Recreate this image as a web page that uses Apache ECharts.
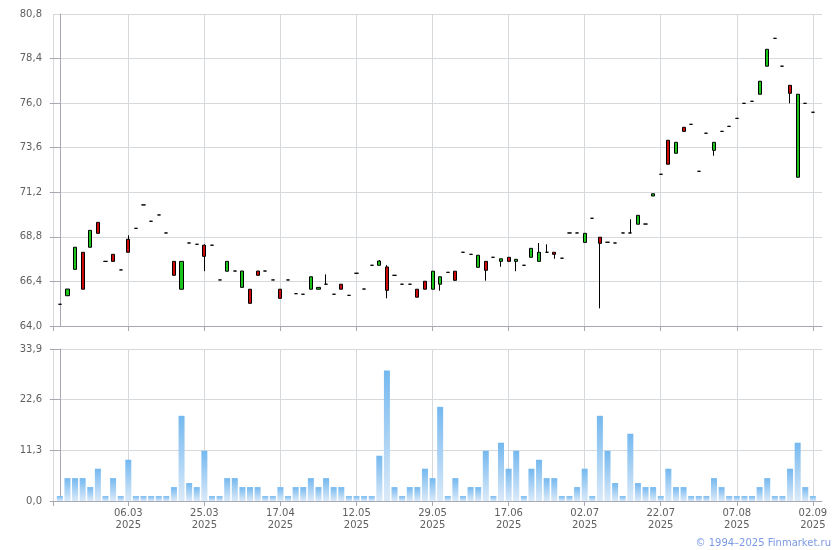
<!DOCTYPE html>
<html>
<head>
<meta charset="utf-8">
<script src="https://cdn.jsdelivr.net/npm/echarts@6/dist/echarts.min.js"></script>
<style>html,body{margin:0;padding:0;background:#fff}#c{width:840px;height:550px}</style>
</head>
<body>
<div id="c"></div>
<script>
// ---- data ----
const openP  = [65.17,65.63,67.05,67.97,68.24,69.58,67.48,67.86,67.02,68.67,
                69.26,70.52,69.64,69.98,69.01,67.48,65.98,68.47,68.40,68.35,
                68.35,66.48,66.95,66.96,66.08,65.98,66.96,66.96,66.48,65.98,
                66.48,65.74,65.71,65.98,65.98,66.25,65.71,66.25,65.65,66.84,
                65.99,67.27,67.27,67.18,66.73,66.25,66.25,65.98,66.41,65.98,
                66.25,66.89,66.95,67.97,67.86,67.16,67.48,67.70,67.48,67.70,
                67.48,67.27,67.70,67.48,67.97,67.97,67.65,69.01,69.01,68.50,
                69.80,68.78,68.51,68.47,69.01,69.01,69.48,69.49,71.00,72.17,
                74.00,73.30,74.70,74.86,72.33,74.38,73.46,74.48,74.75,75.18,
                75.99,76.10,76.48,77.99,79.49,77.99,76.96,72.01,75.99,75.51];
const closeP = [65.17,65.99,68.24,65.98,69.15,68.99,67.48,67.48,67.02,67.97,
                69.26,70.52,69.64,69.98,69.01,66.73,67.48,68.47,68.40,67.75,
                68.35,66.48,67.48,66.96,66.96,65.22,66.73,66.96,66.48,65.49,
                66.48,65.74,65.71,66.65,66.08,66.25,65.71,65.98,65.65,66.84,
                65.99,67.27,67.50,65.92,66.73,66.25,66.25,65.55,65.98,66.95,
                66.65,66.89,66.46,67.97,67.86,67.81,67.00,67.70,67.62,67.48,
                67.59,67.27,68.18,67.97,67.97,67.86,67.65,69.01,69.01,68.99,
                69.80,68.45,68.51,68.47,69.01,69.01,69.96,69.49,71.12,72.17,
                72.71,73.89,74.48,74.86,72.33,74.38,73.89,74.48,74.75,75.18,
                75.99,76.10,77.18,78.90,79.49,77.99,76.53,76.48,75.99,75.51];
const lowP   = [65.17,65.63,67.05,65.98,68.24,68.99,67.48,67.48,67.02,67.97,
                69.26,70.52,69.64,69.98,69.01,66.73,65.98,68.47,68.40,66.95,
                68.35,66.48,66.95,66.96,66.08,65.22,66.73,66.96,66.48,65.49,
                66.48,65.74,65.71,65.98,65.98,66.25,65.71,65.98,65.65,66.84,
                65.99,67.27,67.27,65.49,66.73,66.25,66.25,65.55,65.98,65.98,
                65.90,66.89,66.46,67.97,67.86,67.16,66.44,67.70,67.19,67.48,
                66.95,67.27,67.70,67.48,67.97,67.62,67.65,69.01,69.01,68.50,
                69.80,64.95,68.51,68.47,69.01,69.01,69.48,69.49,71.00,72.17,
                72.71,73.30,74.48,74.86,72.33,74.38,73.17,74.48,74.75,75.18,
                75.99,76.10,76.48,77.99,79.49,77.99,75.99,72.01,75.99,75.51];
const highP  = [65.17,65.99,68.24,67.97,69.15,69.58,67.48,67.86,67.02,68.88,
                69.26,70.52,69.64,69.98,69.01,67.48,67.48,68.47,68.40,68.40,
                68.35,66.48,67.48,66.96,66.96,65.98,66.96,66.96,66.48,65.98,
                66.48,65.74,65.71,66.65,66.08,66.78,65.71,66.25,65.65,66.84,
                65.99,67.27,67.55,67.28,66.73,66.25,66.25,65.98,66.41,66.95,
                66.65,66.89,66.95,67.97,67.86,67.81,67.48,67.70,67.62,67.70,
                67.59,67.27,68.18,68.47,68.40,67.97,67.65,69.01,69.01,68.99,
                69.80,68.78,68.51,68.47,69.01,69.75,69.96,69.49,71.12,72.17,
                74.00,73.89,74.70,74.86,72.33,74.38,73.89,74.48,74.75,75.18,
                75.99,76.10,77.18,78.90,79.49,77.99,76.96,76.48,75.99,75.51];
const volume = [1.1,5.1,5.1,5.1,3.1,7.2,1.1,5.1,1.1,9.2,
                1.1,1.1,1.1,1.1,1.1,3.1,19,4.0,3.1,11.2,
                1.1,1.1,5.1,5.1,3.1,3.1,3.1,1.1,1.1,3.1,
                1.1,3.1,3.1,5.1,3.1,5.1,3.1,3.1,1.1,1.1,
                1.1,1.1,10.1,29.1,3.1,1.1,3.1,3.1,7.2,5.1,
                21,1.1,5.1,1.1,3.1,3.1,11.2,1.1,13,7.2,
                11.2,1.1,7.2,9.2,5.1,5.1,1.1,1.1,3.1,7.2,
                1.1,19,11.2,4.0,1.1,15,4.0,3.1,3.1,1.1,
                7.2,3.1,3.1,1.1,1.1,1.1,5.1,3.1,1.1,1.1,
                1.1,1.1,3.1,5.1,1.1,1.1,7.2,13,3.1,1.1];
const tickIndex  = [9,19,29,39,49,59,69,79,89,99];
const tickLabels = ['06.03','25.03','17.04','12.05','29.05','17.06','02.07','22.07','07.08','02.09'];
const tickYears  = ['2025','2025','2025','2025','2025','2025','2025','2025','2025','2025'];
const priceTicks  = [64.0,66.4,68.8,71.2,73.6,76.0,78.4,80.8];
const volumeTicks = [0.0,11.3,22.6,33.9];

// ---- build ----
const candles = openP.map((o,i)=>[i,o,closeP[i],lowP[i],highP[i]]);
const vols = volume.map((v,i)=>[i,v]);
const XMIN = -0.9, XMAX = 100.2;
const axisCol = '#a7a8b2', gridCol = '#d6d9dc', txtCol = '#606060';
const font = 'DejaVu Sans';
const fmt = v => Number(v).toFixed(1).replace('.', ',');
const priceTop = priceTicks[priceTicks.length-1];

function xAxisCfg(gi, showLabels){
  return {
    type:'value', gridIndex:gi, min:XMIN, max:XMAX,
    axisLine:{show:true, onZero:false, lineStyle:{color:axisCol}},
    axisTick:{show:true, length:5, customValues:[XMIN].concat(tickIndex), lineStyle:{color:axisCol}},
    splitLine:{show:true, lineStyle:{color:gridCol}},
    axisLabel:{show:showLabels, customValues:tickIndex, margin:6, color:txtCol,
      fontFamily:font, fontSize:10, lineHeight:12.5,
      formatter:v=>{const k=tickIndex.indexOf(Math.round(v)); return k>=0 ? tickLabels[k]+'\n'+tickYears[k] : '';}}
  };
}
function yAxisCfg(gi, ticks, tickMarks){
  return {
    type:'value', gridIndex:gi, min:ticks[0], max:ticks[ticks.length-1], scale:true,
    axisLine:{show:true, lineStyle:{color:axisCol}},
    axisTick:{show:true, length:10, customValues:tickMarks, lineStyle:{color:axisCol}},
    splitLine:{show:true, lineStyle:{color:gridCol}},
    axisLabel:{customValues:ticks, margin:11, color:txtCol, fontFamily:font, fontSize:10, formatter:fmt}
  };
}

const chart = echarts.init(document.getElementById('c'), null, {renderer:'canvas'});
chart.setOption({
  animation:false,
  backgroundColor:'#fff',
  grid:[
    {left:53, right:18, top:14, height:312},
    {left:53, right:18, top:349, height:152}
  ],
  xAxis:[xAxisCfg(0,false), xAxisCfg(1,true)],
  yAxis:[yAxisCfg(0,priceTicks,priceTicks.slice(0,-1)), yAxisCfg(1,volumeTicks,volumeTicks)],
  series:[
    {type:'candlestick', xAxisIndex:0, yAxisIndex:0, data:candles, barWidth:3.6, large:false,
     progressive:0, clip:false,
     itemStyle:{color:'#1bc41b', color0:'#cc0a0a', borderColor:'#000', borderColor0:'#000',
       borderColorDoji:'#000', borderWidth:1},
     markLine:{silent:true, symbol:'none', animation:false, z:0,
       lineStyle:{color:gridCol, type:'solid', width:1}, label:{show:false},
       emphasis:{disabled:true},
       data:[{yAxis:priceTop}]}},
    {type:'bar', xAxisIndex:1, yAxisIndex:1, data:vols, barWidth:6,
     itemStyle:{color:new echarts.graphic.LinearGradient(0,0,0,1,[
       {offset:0,color:'#74b8ef'},{offset:1,color:'#dbeaf9'}])}}
  ],
  graphic:[
    {type:'text', right:9, bottom:2,
     style:{text:'\u00a9 1994\u20132025 Finmarket.ru', fill:'#7b99e6', font:'10px "DejaVu Sans"'}}
  ]
});
</script>
</body>
</html>
